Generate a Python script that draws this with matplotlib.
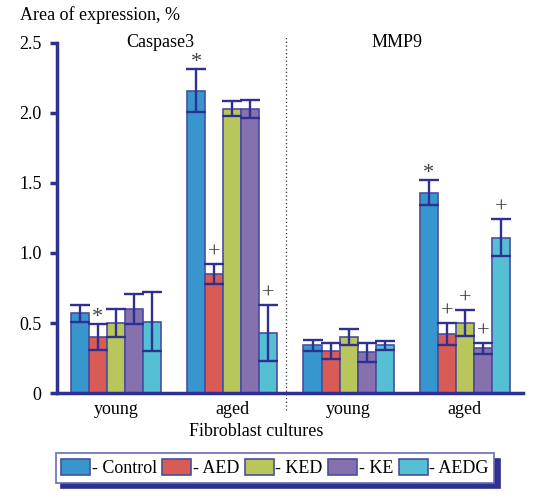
import matplotlib
matplotlib.use("Agg")
import matplotlib.pyplot as plt
import numpy as np

groups = ["young", "aged", "young", "aged"]
series = ["Control", "AED", "KED", "KE", "AEDG"]
colors = ["#3796CE", "#D95B56", "#B9C65C", "#8571AD", "#55BFD3"]

# values per series across the 4 groups (Caspase3 young, aged, MMP9 young, aged)
control = [0.57, 2.16, 0.34, 1.43]
aed = [0.40, 0.85, 0.30, 0.42]
ked = [0.50, 2.03, 0.40, 0.50]
ke = [0.60, 2.03, 0.29, 0.32]
aedg = [0.51, 0.43, 0.34, 1.11]

control_err = [0.06, 0.155, 0.04, 0.09]
aed_err = [0.09, 0.07, 0.06, 0.08]
ked_err = [0.10, 0.055, 0.055, 0.09]
ke_err = [0.11, 0.065, 0.07, 0.04]
aedg_err = [0.21, 0.20, 0.03, 0.13]

# significance marks: (group index, series index, symbol)
marks = [(0, 1, "*"), (1, 0, "*"), (1, 1, "+"), (1, 4, "+"),
         (3, 0, "*"), (3, 1, "+"), (3, 2, "+"), (3, 3, "+"), (3, 4, "+")]

yticks = [0, 0.5, 1.0, 1.5, 2.0, 2.5]
ytick_labels = ["0", "0.5", "1.0", "1.5", "2.0", "2.5"]

plt.rcParams["font.family"] = ["Liberation Serif", "DejaVu Serif"]
navy = "#2E3192"

fig = plt.figure(figsize=(5.46, 5.01), dpi=100)
ax = fig.add_axes([57 / 546, 1 - 393 / 501, (523 - 57) / 546, (393 - 43) / 501])

vals = [control, aed, ked, ke, aedg]
errs = [control_err, aed_err, ked_err, ke_err, aedg_err]
x = np.arange(len(groups))
w = 0.155
for i, (v, e, c, name) in enumerate(zip(vals, errs, colors, series)):
    pos = x + (i - 2) * w
    ax.bar(pos, v, width=w, color=c, edgecolor="#4A4E9E", linewidth=1.2,
           label="- " + name, zorder=2)
    ax.errorbar(pos, v, yerr=e, fmt="none", ecolor=navy, elinewidth=1.7,
                capsize=7, capthick=1.7, zorder=3)

for g, s, sym in marks:
    top = vals[s][g] + errs[s][g]
    ax.annotate(sym, (x[g] + (s - 2) * w, top), xytext=(0, 1 if sym == "+" else -2),
                textcoords="offset points", ha="center", va="bottom",
                fontsize=16, color="#404040", zorder=4)

ax.set_xlim(-0.507, 3.5)
ax.set_ylim(0, 2.5)
ax.set_yticks(yticks)
ax.set_yticklabels(ytick_labels, fontsize=13)
ax.set_xticks(x)
ax.set_xticklabels(groups, fontsize=13)
ax.tick_params(axis="x", length=0, pad=6)
ax.tick_params(axis="y", direction="out", length=5, width=2.5, color=navy, pad=6)
for sp in ["top", "right"]:
    ax.spines[sp].set_visible(False)
for sp in ["left", "bottom"]:
    ax.spines[sp].set_color(navy)
    ax.spines[sp].set_linewidth(2.5)

ax.plot([1.46, 1.46], [-0.12, 2.54], ls=(0, (1, 2)), color="#333333", lw=0.9,
        clip_on=False, zorder=1)

fig.text(20 / 546, 1 - 15 / 501, "Area of expression, %", fontsize=13, va="center", ha="left")
ax.text(0.38, 2.5, "Caspase3", fontsize=13, ha="center", va="center")
ax.text(2.42, 2.5, "MMP9", fontsize=13, ha="center", va="center")
fig.text(256 / 546, 1 - 431 / 501, "Fibroblast cultures", fontsize=13, ha="center", va="center")

leg = fig.legend(loc="center", bbox_to_anchor=(275 / 546, 1 - 468 / 501), ncol=5,
                 fontsize=13, frameon=True, fancybox=False, handlelength=1.6,
                 handleheight=1.0, handletextpad=0.1, columnspacing=0.3,
                 borderpad=0.3, borderaxespad=0,
                 shadow={"color": navy, "alpha": 1.0, "ox": 4, "oy": -4})
leg.get_frame().set_edgecolor("#6A6DB0")
leg.get_frame().set_linewidth(1.2)

fig.savefig("out.png", dpi=100)
